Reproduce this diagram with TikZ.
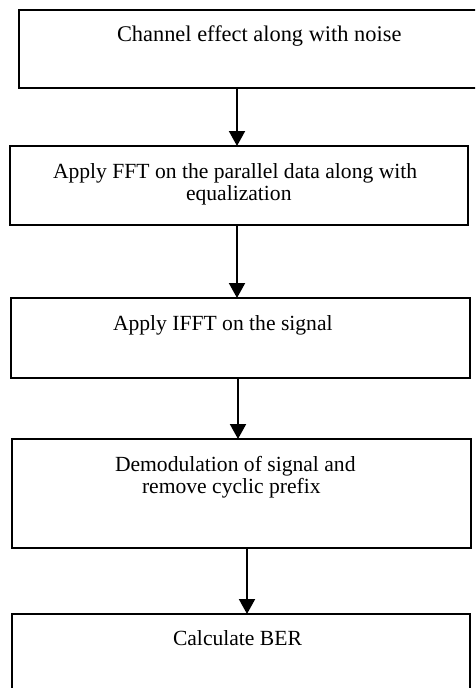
\documentclass[tikz,border=0pt]{standalone}
\usepackage{fontspec}
\setmainfont{Liberation Serif}
\usetikzlibrary{arrows.meta}
\begin{document}
\begin{tikzpicture}[x=1pt,y=-1pt,
  box/.style={draw,line width=1.7pt,inner sep=0pt,outer sep=0pt},
  lbl/.style={anchor=base west,inner sep=0pt,outer sep=0pt,font=\fontsize{21.6}{24}\selectfont},
  arr/.style={line width=2pt,-{Triangle[width=16pt,length=15pt]}}]
\useasboundingbox (0,0) rectangle (475,688);
\clip (0,0) rectangle (475,688);
% boxes
\node[box,minimum width=466pt,minimum height=78pt] (b1) at (252,49) {};
\node[box,minimum width=458pt,minimum height=79pt] (b2) at (239,185.5) {};
\node[box,minimum width=459pt,minimum height=80pt] (b3) at (240.5,338) {};
\node[box,minimum width=459pt,minimum height=109pt] (b4) at (241.5,493.5) {};
\node[box,minimum width=458pt,minimum height=86pt] (b5) at (241,657) {};
% texts
\node[lbl,font=\fontsize{22.4}{24}\selectfont] (t1) at (117,41) {Channel effect along with noise};
\node[lbl] (t2a) at (53,178) {Apply FFT on the parallel data along with};
\node[lbl] (t2b) at (186,200) {equalization};
\node[lbl] (t3) at (113,330) {Apply IFFT on the signal};
\node[lbl] (t4a) at (115,471) {Demodulation of signal and};
\node[lbl] (t4b) at (142,493) {remove cyclic prefix};
\node[lbl] (t5) at (173,645) {Calculate BER};
% arrows
\coordinate (x1) at (237,0);
\coordinate (x2) at (237,0);
\coordinate (x3) at (238,0);
\coordinate (x4) at (247,0);
\draw[arr] (b1.south -| x1) -- (b2.north -| x1);
\draw[arr] (b2.south -| x2) -- (b3.north -| x2);
\draw[arr] (b3.south -| x3) -- (b4.north -| x3);
\draw[arr] (b4.south -| x4) -- (b5.north -| x4);
\end{tikzpicture}
\end{document}
